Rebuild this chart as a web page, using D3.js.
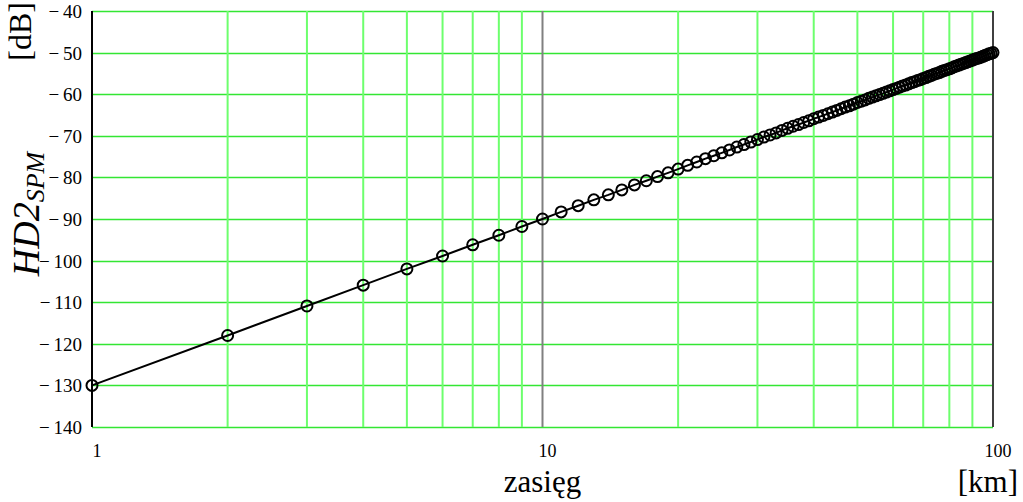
<!DOCTYPE html>
<html>
<head>
<meta charset="utf-8">
<script src="https://cdn.jsdelivr.net/npm/d3@7"></script>
<style>
  body { margin: 0; background: #fff; }
</style>
</head>
<body>
<script>
// range in km (sample points)
var distKm = [1, 2, 3, 4, 5, 6, 7, 8, 9, 10,
  11, 12, 13, 14, 15, 16, 17, 18, 19, 20,
  21, 22, 23, 24, 25, 26, 27, 28, 29, 30,
  31, 32, 33, 34, 35, 36, 37, 38, 39, 40,
  41, 42, 43, 44, 45, 46, 47, 48, 49, 50,
  51, 52, 53, 54, 55, 56, 57, 58, 59, 60,
  61, 62, 63, 64, 65, 66, 67, 68, 69, 70,
  71, 72, 73, 74, 75, 76, 77, 78, 79, 80,
  81, 82, 83, 84, 85, 86, 87, 88, 89, 90,
  91, 92, 93, 94, 95, 96, 97, 98, 99, 100];

// HD2 SPM in dB
var hd2Spm = [-130.0, -118.0, -110.9, -105.9, -102.0, -98.9, -96.2, -93.9, -91.8, -90.0,
  -88.3, -86.8, -85.4, -84.2, -83.0, -81.8, -80.8, -79.8, -78.9, -78.0,
  -77.1, -76.3, -75.5, -74.8, -74.1, -73.4, -72.7, -72.1, -71.5, -70.9,
  -70.3, -69.8, -69.3, -68.7, -68.2, -67.7, -67.3, -66.8, -66.4, -65.9,
  -65.5, -65.1, -64.7, -64.3, -63.9, -63.5, -63.1, -62.8, -62.4, -62.0,
  -61.7, -61.4, -61.0, -60.7, -60.4, -60.1, -59.8, -59.5, -59.2, -58.9,
  -58.6, -58.3, -58.0, -57.8, -57.5, -57.2, -57.0, -56.7, -56.5, -56.2,
  -56.0, -55.7, -55.5, -55.2, -55.0, -54.8, -54.5, -54.3, -54.1, -53.9,
  -53.7, -53.4, -53.2, -53.0, -52.8, -52.6, -52.4, -52.2, -52.0, -51.8,
  -51.6, -51.4, -51.3, -51.1, -50.9, -50.7, -50.5, -50.3, -50.2, -50.0];

var yTicks = [-40, -50, -60, -70, -80, -90, -100, -110, -120, -130, -140];
var xLabelTicks = [1, 10, 100];
var xGridTicks = [2, 3, 4, 5, 6, 7, 8, 9, 20, 30, 40, 50, 60, 70, 80, 90];

var svgWidth = 1023;
var svgHeight = 502;

var margin = { top: 11, right: 30, bottom: 75, left: 92 };
var chartWidth = 993 - margin.left;
var chartHeight = 427 - margin.top;

var svg = d3.select("body")
  .append("svg")
  .attr("width", svgWidth)
  .attr("height", svgHeight)
  .style("font-family", "'Liberation Serif', 'DejaVu Serif', serif");

var chartGroup = svg.append("g")
  .attr("transform", `translate(${margin.left}, ${margin.top})`);

var xScale = d3.scaleLog()
  .domain([1, 100])
  .range([0, chartWidth]);

var yScale = d3.scaleLinear()
  .domain([-140, -40])
  .range([chartHeight, 0]);

// horizontal grid lines
chartGroup.selectAll(".hgrid")
  .data(yTicks)
  .enter()
  .append("line")
  .attr("x1", 0)
  .attr("x2", chartWidth)
  .attr("y1", d => Math.round(yScale(d)) + 0.5)
  .attr("y2", d => Math.round(yScale(d)) + 0.5)
  .attr("stroke", "#33e633")
  .attr("stroke-width", 1.5);

// vertical grid lines
chartGroup.selectAll(".vgrid")
  .data(xGridTicks)
  .enter()
  .append("line")
  .attr("x1", d => xScale(d))
  .attr("x2", d => xScale(d))
  .attr("y1", 0)
  .attr("y2", chartHeight)
  .attr("stroke", "#6dff6d")
  .attr("stroke-width", 2);

// decade line at 10 is gray
chartGroup.append("line")
  .attr("x1", xScale(10))
  .attr("x2", xScale(10))
  .attr("y1", 0)
  .attr("y2", chartHeight)
  .attr("stroke", "#808080")
  .attr("stroke-width", 2);

// right frame
chartGroup.append("line")
  .attr("x1", chartWidth)
  .attr("x2", chartWidth)
  .attr("y1", 0)
  .attr("y2", chartHeight)
  .attr("stroke", "#404040")
  .attr("stroke-width", 2);

// left axis line
chartGroup.append("line")
  .attr("x1", 0)
  .attr("x2", 0)
  .attr("y1", 0)
  .attr("y2", chartHeight)
  .attr("stroke", "#000")
  .attr("stroke-width", 2);

// y tick labels
chartGroup.selectAll(".ylab")
  .data(yTicks)
  .enter()
  .append("text")
  .attr("x", -10)
  .attr("y", d => yScale(d) + 7)
  .attr("text-anchor", "end")
  .attr("font-size", 19)
  .text(d => "\u2212\u2009" + Math.abs(d));

// x tick labels
chartGroup.selectAll(".xlab")
  .data(xLabelTicks)
  .enter()
  .append("text")
  .attr("x", d => xScale(d) + 5)
  .attr("y", chartHeight + 30)
  .attr("text-anchor", "middle")
  .attr("font-size", 18)
  .text(d => d);

// data line
var drawLine = d3.line()
  .x((d, i) => xScale(distKm[i]))
  .y(d => yScale(d));

chartGroup.append("path")
  .attr("d", drawLine(hd2Spm))
  .attr("fill", "none")
  .attr("stroke", "#000")
  .attr("stroke-width", 2);

chartGroup.selectAll(".pt")
  .data(hd2Spm)
  .enter()
  .append("circle")
  .attr("cx", (d, i) => xScale(distKm[i]))
  .attr("cy", d => yScale(d))
  .attr("r", 5.5)
  .attr("fill", "none")
  .attr("stroke", "#000")
  .attr("stroke-width", 2);

// axis titles
svg.append("text")
  .attr("x", margin.left + xScale(10))
  .attr("y", 492)
  .attr("text-anchor", "middle")
  .attr("font-size", 31)
  .text("zasięg");

svg.append("text")
  .attr("x", 1018)
  .attr("y", 492)
  .attr("text-anchor", "end")
  .attr("font-size", 31)
  .text("[km]");

svg.append("text")
  .attr("transform", "translate(31, 2) rotate(-90)")
  .attr("text-anchor", "end")
  .attr("font-size", 32)
  .text("[dB]");

var yTitle = svg.append("text")
  .attr("transform", "translate(39, 214) rotate(-90)")
  .attr("text-anchor", "middle")
  .attr("font-size", 38)
  .attr("font-style", "italic");
yTitle.append("tspan").text("HD2");
yTitle.append("tspan")
  .attr("dy", 5)
  .attr("font-size", 26)
  .text("SPM");
</script>
</body>
</html>
